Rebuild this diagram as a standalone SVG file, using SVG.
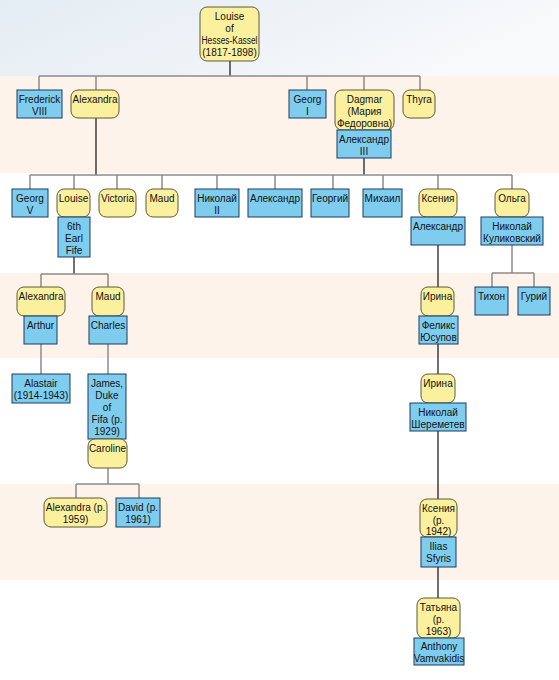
<svg xmlns="http://www.w3.org/2000/svg" width="559" height="680" viewBox="0 0 559 680">
<defs>
<linearGradient id="sky" x1="0" y1="0" x2="1" y2="0.3">
<stop offset="0" stop-color="#e4edf4"/>
<stop offset="0.5" stop-color="#edf2f7"/>
<stop offset="1" stop-color="#f8f9fb"/>
</linearGradient>
<style>
.y{fill:#fbf09e;stroke:#5e5a34;stroke-width:1}
.b{fill:#7fcdee;stroke:#1d3a5e;stroke-width:1}
text{font-family:"Liberation Sans",Arial,sans-serif;font-size:10px;fill:#111;text-anchor:middle}
.g{stroke:#8c8c8c;stroke-width:1.5;fill:none}
.k{stroke:#111;stroke-width:1.2;fill:none}
</style>
</defs>
<rect width="559" height="680" fill="#ffffff"/>
<rect x="0" y="0" width="559" height="76" fill="url(#sky)"/>
<rect x="0" y="76" width="559" height="97" fill="#fdf3ea"/>
<rect x="0" y="273" width="559" height="85" fill="#fdf3ea"/>
<rect x="0" y="484" width="559" height="96" fill="#fdf3ea"/>

<g id="connectors">
<path class="k" d="M230 61V76M96 118V175M364 158V175M74 257V274M438 245V287M438 344V374M438 431V499M438 567V598"/>
<path class="g" d="M39 76H420M39 76V90M96 76V90M307 76V90M364 76V90M420 76V90"/>
<path class="g" d="M30 175H512M30 175V189M74 175V189M117 175V189M162 175V189M217 175V189M275 175V189M333 175V189M383 175V189M438 175V189M512 175V189"/>
<path class="g" d="M41 274H108M41 274V287M108 274V287M41 344V374M108 344V374M108 468V484M76 484H139M76 484V498M139 484V498"/>
<path class="g" d="M512 245V273M492 273H534M492 273V287M534 273V287"/>
</g>

<g id="louise-hk"><rect class="y" x="200" y="7" width="59" height="54" rx="7"/><text x="229.5" y="20">Louise</text><text x="229.5" y="32">of</text><text x="229.5" y="44" textLength="56" lengthAdjust="spacingAndGlyphs">Hesses-Kassel</text><text x="229.5" y="56">(1817-1898)</text></g>
<g id="frederick"><rect class="b" x="17" y="90" width="45" height="28"/><text x="39.5" y="103">Frederick</text><text x="39.5" y="115">VIII</text></g>
<g id="alexandra"><rect class="y" x="71" y="90" width="48" height="28" rx="7"/><text x="95" y="103">Alexandra</text></g>
<g id="georg-i"><rect class="b" x="289" y="90" width="37" height="28"/><text x="307.5" y="103">Georg</text><text x="307.5" y="115">I</text></g>
<g id="dagmar"><rect class="y" x="335" y="90" width="59" height="40" rx="7"/><text x="364.5" y="103">Dagmar</text><text x="364.5" y="115">(Мария</text><text x="364.5" y="127">Федоровна)</text></g>
<g id="alexander-iii"><rect class="b" x="337" y="130" width="54" height="28"/><text x="364" y="143">Александр</text><text x="364" y="155">III</text></g>
<g id="thyra"><rect class="y" x="403" y="90" width="32" height="28" rx="7"/><text x="419" y="103">Thyra</text></g>

<g id="georg-v"><rect class="b" x="12" y="189" width="36" height="28"/><text x="30" y="202">Georg</text><text x="30" y="214">V</text></g>
<g id="louise"><rect class="y" x="57" y="189" width="33" height="28" rx="7"/><text x="73.5" y="202">Louise</text></g>
<g id="earl-fife"><rect class="b" x="58" y="217" width="32" height="40"/><text x="74" y="230">6th</text><text x="74" y="242">Earl</text><text x="74" y="254">Fife</text></g>
<g id="victoria"><rect class="y" x="99" y="189" width="37" height="28" rx="7"/><text x="117.5" y="202">Victoria</text></g>
<g id="maud"><rect class="y" x="146" y="189" width="32" height="28" rx="7"/><text x="162" y="202">Maud</text></g>
<g id="nikolai-ii"><rect class="b" x="195" y="189" width="44" height="28"/><text x="217" y="202">Николай</text><text x="217" y="214">II</text></g>
<g id="aleksandr"><rect class="b" x="248" y="189" width="54" height="28"/><text x="275" y="202">Александр</text></g>
<g id="georgiy"><rect class="b" x="311" y="189" width="38" height="28"/><text x="330" y="202">Георгий</text></g>
<g id="mikhail"><rect class="b" x="363" y="189" width="39" height="28"/><text x="382.5" y="202">Михаил</text></g>
<g id="ksenia"><rect class="y" x="419" y="189" width="38" height="28" rx="7"/><text x="438" y="202">Ксения</text></g>
<g id="aleksandr-m"><rect class="b" x="411" y="217" width="54" height="28"/><text x="438" y="230">Александр</text></g>
<g id="olga"><rect class="y" x="495" y="189" width="34" height="28" rx="7"/><text x="512" y="202">Ольга</text></g>
<g id="kulikovsky"><rect class="b" x="481" y="217" width="62" height="28"/><text x="512" y="230">Николай</text><text x="512" y="242">Куликовский</text></g>

<g id="alexandra-2"><rect class="y" x="17" y="287" width="48" height="29" rx="7"/><text x="41" y="300">Alexandra</text></g>
<g id="arthur"><rect class="b" x="24" y="316" width="33" height="28"/><text x="40.5" y="329">Arthur</text></g>
<g id="maud-2"><rect class="y" x="92" y="287" width="32" height="29" rx="7"/><text x="108" y="300">Maud</text></g>
<g id="charles"><rect class="b" x="89" y="316" width="38" height="28"/><text x="108" y="329">Charles</text></g>
<g id="irina"><rect class="y" x="421" y="287" width="33" height="29" rx="7"/><text x="437.5" y="300">Ирина</text></g>
<g id="felix"><rect class="b" x="419" y="316" width="39" height="28"/><text x="438.5" y="329">Феликс</text><text x="438.5" y="341">Юсупов</text></g>
<g id="tikhon"><rect class="b" x="475" y="287" width="33" height="28"/><text x="491.5" y="300">Тихон</text></g>
<g id="guriy"><rect class="b" x="518" y="287" width="32" height="28"/><text x="534" y="300">Гурий</text></g>

<g id="alastair"><rect class="b" x="12" y="374" width="58" height="29"/><text x="41" y="387">Alastair</text><text x="41" y="399">(1914-1943)</text></g>
<g id="james"><rect class="b" x="88" y="374" width="38" height="65"/><text x="107" y="387">James,</text><text x="107" y="399">Duke</text><text x="107" y="411">of</text><text x="107" y="423">Fifa (p.</text><text x="107" y="435">1929)</text></g>
<g id="caroline"><rect class="y" x="88" y="439" width="39" height="29" rx="7"/><text x="107.5" y="452">Caroline</text></g>
<g id="irina-2"><rect class="y" x="421" y="374" width="34" height="29" rx="7"/><text x="438" y="387">Ирина</text></g>
<g id="sheremetev"><rect class="b" x="410" y="403" width="56" height="28"/><text x="438" y="416">Николай</text><text x="438" y="428">Шереметев</text></g>

<g id="alexandra-3"><rect class="y" x="44" y="498" width="63" height="29" rx="7"/><text x="75.5" y="511">Alexandra (p.</text><text x="75.5" y="523">1959)</text></g>
<g id="david"><rect class="b" x="116" y="498" width="44" height="29"/><text x="138" y="511">David (p.</text><text x="138" y="523">1961)</text></g>
<g id="ksenia-2"><rect class="y" x="420" y="499" width="37" height="38" rx="7"/><text x="438.5" y="512">Ксения</text><text x="438.5" y="524">(р.</text><text x="438.5" y="535">1942)</text></g>
<g id="ilias"><rect class="b" x="421" y="537" width="35" height="30"/><text x="438.5" y="550">Ilias</text><text x="438.5" y="562">Sfyris</text></g>
<g id="tatiana"><rect class="y" x="417" y="598" width="43" height="40" rx="7"/><text x="438.5" y="611">Татьяна</text><text x="438.5" y="623">(р.</text><text x="438.5" y="635">1963)</text></g>
<g id="anthony"><rect class="b" x="414" y="638" width="50" height="27"/><text x="439" y="650">Anthony</text><text x="439" y="662">Vamvakidis</text></g>
</svg>
